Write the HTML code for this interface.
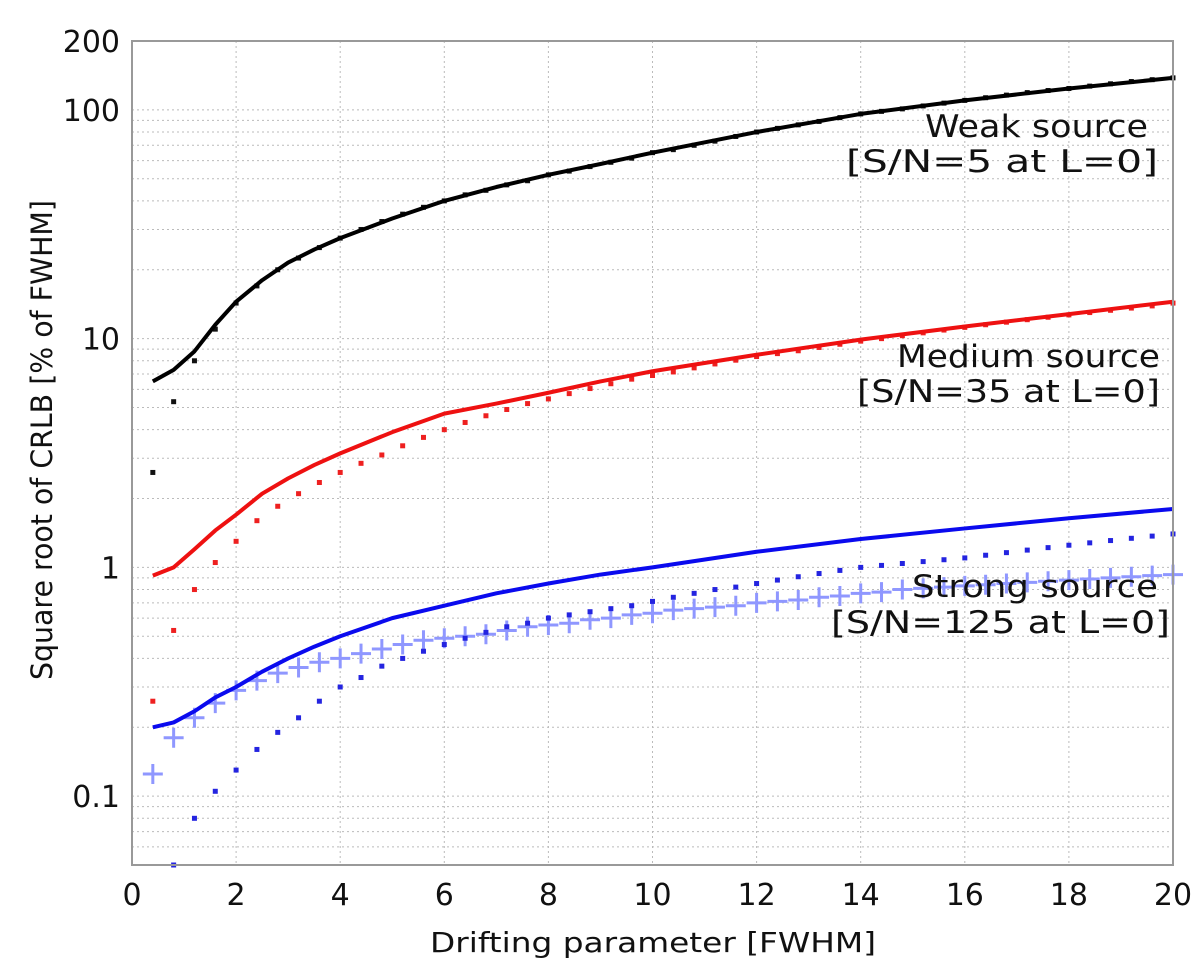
<!DOCTYPE html>
<html><head><meta charset="utf-8"><style>
html,body{margin:0;padding:0;background:#fff;}
svg{display:block;font-family:"DejaVu Sans","Liberation Sans",sans-serif;}
</style></head><body>
<svg id="chart" width="1200" height="979" viewBox="0 0 1200 979">
<g id="grid"></g>
<g id="series"></g>
<rect x="132" y="41" width="1041" height="824" fill="none" stroke="#999" stroke-width="2"/>
<g id="ticks"></g>
<g font-size="31" fill="#111" lengthAdjust="spacingAndGlyphs">
<text x="925" y="137" textLength="223" lengthAdjust="spacingAndGlyphs">Weak source</text>
<text x="846" y="172" textLength="312" lengthAdjust="spacingAndGlyphs">[S/N=5 at L=0]</text>
<text x="897" y="367" textLength="263" lengthAdjust="spacingAndGlyphs">Medium source</text>
<text x="857" y="402" textLength="303" lengthAdjust="spacingAndGlyphs">[S/N=35 at L=0]</text>
<text x="912" y="597" textLength="246" lengthAdjust="spacingAndGlyphs">Strong source</text>
<text x="831" y="633" textLength="339" lengthAdjust="spacingAndGlyphs">[S/N=125 at L=0]</text>
</g>
<text x="430" y="952" font-size="28" textLength="446" lengthAdjust="spacingAndGlyphs" fill="#111">Drifting parameter [FWHM]</text>
<text transform="translate(52,440) rotate(-90)" font-size="29" text-anchor="middle" textLength="480" lengthAdjust="spacingAndGlyphs" fill="#111">Square root of CRLB  [% of FWHM]</text>
</svg>
<script>
const xTicks = [0,2,4,6,8,10,12,14,16,18,20];
const yTicks = [0.1,1,10,100,200];
const yTickLabels = ["0.1","1","10","100","200"];
const dotX = [0.4,0.8,1.2,1.6,2.0,2.4,2.8,3.2,3.6,4.0,4.4,4.8,5.2,5.6,6.0,6.4,6.8,7.2,7.6,8.0,8.4,8.8,9.2,9.6,10.0,10.4,10.8,11.2,11.6,12.0,12.4,12.8,13.2,13.6,14.0,14.4,14.8,15.2,15.6,16.0,16.4,16.8,17.2,17.6,18.0,18.4,18.8,19.2,19.6,20.0];
const blackDots = [2.6,5.3,8.0,11,14.3,17,20,22.5,25,27.5,30,32.5,35,37.5,40,42.5,44.5,47,49,52,54,56.5,59,61.5,65,67,70,73,76.5,80,83,86,89,92.5,96,98.5,101,104,107,110,113,116,119,121.5,124,127,130,133,135.5,138];
const redDots = [0.26,0.53,0.80,1.05,1.30,1.60,1.85,2.10,2.35,2.60,2.85,3.10,3.40,3.70,4.00,4.30,4.60,4.90,5.20,5.45,5.75,6.05,6.35,6.65,6.90,7.15,7.45,7.75,8.05,8.35,8.60,8.85,9.15,9.45,9.75,10.0,10.3,10.6,10.9,11.2,11.5,11.8,12.1,12.4,12.7,13.0,13.3,13.6,13.9,14.3];
const blueDots = [0.04,0.05,0.08,0.105,0.13,0.16,0.19,0.22,0.26,0.30,0.33,0.37,0.40,0.43,0.46,0.49,0.52,0.55,0.57,0.60,0.62,0.64,0.66,0.68,0.71,0.74,0.77,0.80,0.82,0.85,0.88,0.91,0.94,0.97,1.00,1.02,1.04,1.06,1.08,1.10,1.13,1.16,1.19,1.22,1.25,1.28,1.31,1.34,1.37,1.40];
const bluePlus = [0.125,0.18,0.22,0.255,0.29,0.32,0.345,0.365,0.385,0.40,0.42,0.44,0.46,0.48,0.49,0.50,0.51,0.53,0.55,0.56,0.57,0.59,0.60,0.62,0.63,0.65,0.66,0.67,0.68,0.70,0.71,0.72,0.74,0.75,0.77,0.78,0.80,0.81,0.82,0.83,0.84,0.85,0.86,0.87,0.88,0.89,0.90,0.91,0.92,0.93];
const lineX = [0.4,0.8,1.2,1.6,2,2.5,3,3.5,4,5,6,7,8,9,10,12,14,16,18,20];
const blackLine = [6.5,7.3,8.8,11.5,14.5,18,21.5,24.5,27.5,33.5,40,46,52,58,65,80,96,110,124,138];
const redLine = [0.92,1.0,1.2,1.45,1.7,2.1,2.45,2.8,3.15,3.9,4.7,5.2,5.8,6.5,7.2,8.5,9.9,11.3,12.8,14.5];
const blueLine = [0.2,0.21,0.235,0.27,0.3,0.35,0.4,0.45,0.5,0.6,0.68,0.77,0.85,0.93,1.0,1.17,1.33,1.48,1.64,1.8];

const NS="http://www.w3.org/2000/svg";
const X0=132,X1=1173,YT=41,YB=865,YMIN=0.05,YMAX=200;
function sx(v){return X0+(v-0)/(20-0)*(X1-X0);}
function sy(v){return YB-(Math.log10(v)-Math.log10(YMIN))/(Math.log10(YMAX)-Math.log10(YMIN))*(YB-YT);}
function mk(tag,parent,attrs){const e=document.createElementNS(NS,tag);for(const k in attrs)e.setAttribute(k,attrs[k]);parent.appendChild(e);return e;}
const grid=document.getElementById('grid'),ticks=document.getElementById('ticks'),ser=document.getElementById('series');
xTicks.forEach(t=>{
  if(t>0&&t<20){const l=mk('line',grid,{x1:sx(t),x2:sx(t),y1:YT,y2:YB,stroke:'#bbb','stroke-width':1,'stroke-dasharray':'2,3'});
  
  }
  const tx=mk('text',ticks,{x:sx(t),y:YB+40,'font-size':30,'text-anchor':'middle',fill:'#111'});
  tx.textContent=String(t);
  
  
});
[0.01,0.1,1,10,100].forEach(d=>{for(let m=1;m<=9;m++){const v=d*m;if(v<YMIN||v>YMAX)continue;
  const l=mk('line',grid,{x1:X0,x2:X1,y1:sy(v),y2:sy(v),stroke:'#bbb','stroke-width':1,'stroke-dasharray':'2,3'});
  
  }});
yTicks.forEach((t,i)=>{const tx=mk('text',ticks,{x:120,y:sy(t)+11,'font-size':30,'text-anchor':'end',fill:'#111'});
  tx.textContent=yTickLabels[i];
  
  });
function clipOk(v){return v>=YMIN&&v<=YMAX;}
function line(arr,color,name){const pts=lineX.map((x,i)=>sx(x)+','+sy(arr[i])).join(' ');
  const p=mk('polyline',ser,{points:pts,fill:'none',stroke:color,'stroke-width':4,'stroke-linejoin':'round'});
  
  }
function dots(arr,color,name){arr.forEach((v,i)=>{if(!clipOk(v))return;
  const r=mk('rect',ser,{x:sx(dotX[i])-2.5,y:sy(v)-2.5,width:5,height:5,fill:color});
  
  });}
function plus(arr,color,name){arr.forEach((v,i)=>{if(!clipOk(v))return;const x=sx(dotX[i]),y=sy(v);
  const p=mk('path',ser,{d:`M${x-10},${y}H${x+10}M${x},${y-10}V${y+10}`,stroke:color,'stroke-width':3,fill:'none'});
  
  });}
plus(bluePlus,'#8f97ff','blue-plus-marker');
dots(blueDots,'#2424e0','blue-dot');
dots(redDots,'#ee2020','red-dot');
dots(blackDots,'#111','black-dot');
line(blueLine,'#0a0aee','strong-source-line');
line(redLine,'#ee1111','medium-source-line');
line(blackLine,'#000','weak-source-line');
</script>
</body></html>
